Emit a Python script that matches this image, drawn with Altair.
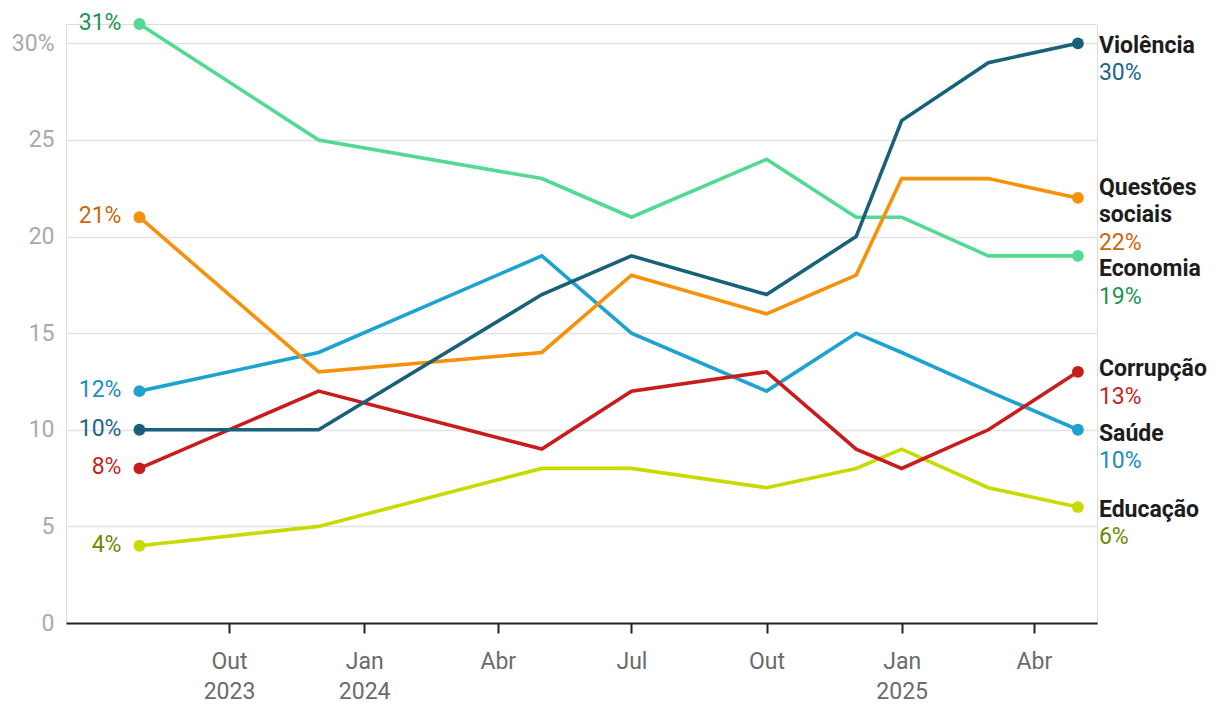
import json
import altair as alt
import pandas as pd

# ---------------- data ----------------
dates = ["2023-08-01", "2023-12-01", "2024-05-01", "2024-07-01", "2024-10-01",
         "2024-12-01", "2025-01-01", "2025-03-01", "2025-05-01"]

series_names = ["Economia", "Educação", "Saúde", "Corrupção", "Questões sociais", "Violência"]
economia = [31, 25, 23, 21, 24, 21, 21, 19, 19]
educacao = [4, 5, 8, 8, 7, 8, 9, 7, 6]
saude = [12, 14, 19, 15, 12, 15, 14, 12, 10]
corrupcao = [8, 12, 9, 12, 13, 9, 8, 10, 13]
questoes = [21, 13, 14, 18, 16, 18, 23, 23, 22]
violencia = [10, 10, 17, 19, 17, 20, 26, 29, 30]
series_values = [economia, educacao, saude, corrupcao, questoes, violencia]

right_names = ["Economia", "Educação", "Saúde", "Corrupção", "Questões\nsociais", "Violência"]

tick_dates = ["2023-10-01", "2024-01-01", "2024-04-01", "2024-07-01",
              "2024-10-01", "2025-01-01", "2025-04-01"]
tick_labels = [["Out", "2023"], ["Jan", "2024"], "Abr", "Jul", "Out", ["Jan", "2025"], "Abr"]
y_ticks = [0, 5, 10, 15, 20, 25, 30]

# ---------------- styles ----------------
line_colors = ["#52d994", "#c8db00", "#1ea3d1", "#c81d1d", "#f7900a", "#19607a"]
label_colors = ["#189653", "#6b8a00", "#1a8cbf", "#c91f1f", "#c8680a", "#1d6688"]
name_dy = [20, 10, 11, 4, -3, 9.5]
value_dy = [48, 37, 38.5, 32, 52, 37]
FONT = "Roboto"
FS = 23

rows = []
for name, vals, lc in zip(series_names, series_values, label_colors):
    for d, v in zip(dates, vals):
        rows.append({"series": name, "date": d, "value": v, "lcolor": lc,
                     "pct": f"{v}%"})
df = pd.DataFrame(rows)
first_df = df[df["date"] == dates[0]]
last_df = df[df["date"] == dates[-1]]
ends_df = pd.concat([first_df, last_df])


def dt(s):
    y, m, d = (int(p) for p in s.split("-"))
    return alt.DateTime(year=y, month=m, date=d, utc=True)


expr = "''"
for d, lab in reversed(list(zip(tick_dates, tick_labels))):
    expr = f"utcFormat(datum.value, '%Y-%m-%d') == '{d}' ? {json.dumps(lab, ensure_ascii=False)} : ({expr})"

x_axis = alt.Axis(values=[dt(d) for d in tick_dates], labelExpr=expr, title=None,
                  grid=False, tickSize=10, tickWidth=2, tickColor="#222222",
                  domainColor="#222222", domainWidth=2, labelFont=FONT,
                  labelFontSize=FS, labelColor="#6b6b6b", labelPadding=17,
                  labelLineHeight=30, labelFlush=False, labelOverlap=False, zindex=1)
y_axis = alt.Axis(values=y_ticks, labelExpr="datum.value == 30 ? '30%' : datum.label",
                  title=None, grid=True, gridColor="#e3e3e3", gridWidth=1.5,
                  domain=False, ticks=False, tickSize=0, labelPadding=12,
                  labelFont=FONT, labelFontSize=FS, labelColor="#a9a9a9")

x_enc = alt.X("date:T", scale=alt.Scale(type="utc", domain=[dt("2023-06-12"), dt("2025-05-14")]),
              axis=x_axis)
y_enc = alt.Y("value:Q", scale=alt.Scale(domain=[0, 31], nice=False, zero=True), axis=y_axis)
color_enc = alt.Color("series:N", scale=alt.Scale(domain=series_names, range=line_colors),
                      legend=None)

lines = alt.Chart(df).mark_line(strokeWidth=3.6).encode(
    x=x_enc, y=y_enc, color=color_enc, detail="series:N")
points = alt.Chart(ends_df).mark_circle(size=140, opacity=1).encode(
    x=x_enc, y=y_enc, color=color_enc)
left_labels = alt.Chart(first_df).mark_text(
    align="right", baseline="alphabetic", dx=-18, dy=6, font=FONT, fontSize=FS).encode(
    x=x_enc, y=y_enc, text="pct:N", color=alt.Color("lcolor:N", scale=None))

layers = [lines, points, left_labels]
for name, rname, lc, ndy, vdy in zip(series_names, right_names, label_colors, name_dy, value_dy):
    sub = last_df[last_df["series"] == name].assign(rname=rname)
    layers.append(alt.Chart(sub).mark_text(
        align="left", baseline="alphabetic", dx=21, dy=ndy, font=FONT, fontSize=FS,
        fontWeight="bold", color="#1d1d1d", lineBreak="\n", lineHeight=27.5).encode(
        x=x_enc, y=y_enc, text="rname:N"))
    layers.append(alt.Chart(sub).mark_text(
        align="left", baseline="alphabetic", dx=21, dy=vdy, font=FONT, fontSize=FS,
        color=lc).encode(x=x_enc, y=y_enc, text="pct:N"))

chart = alt.layer(*layers).properties(
    width=1031, height=599,
    autosize=alt.AutoSizeParams(type="none"),
    padding={"left": 58, "top": 16, "right": 115, "bottom": 83},
).configure_view(stroke=None).configure(font=FONT)

chart.save("out.html", embed_options={"renderer": "svg", "actions": False})
